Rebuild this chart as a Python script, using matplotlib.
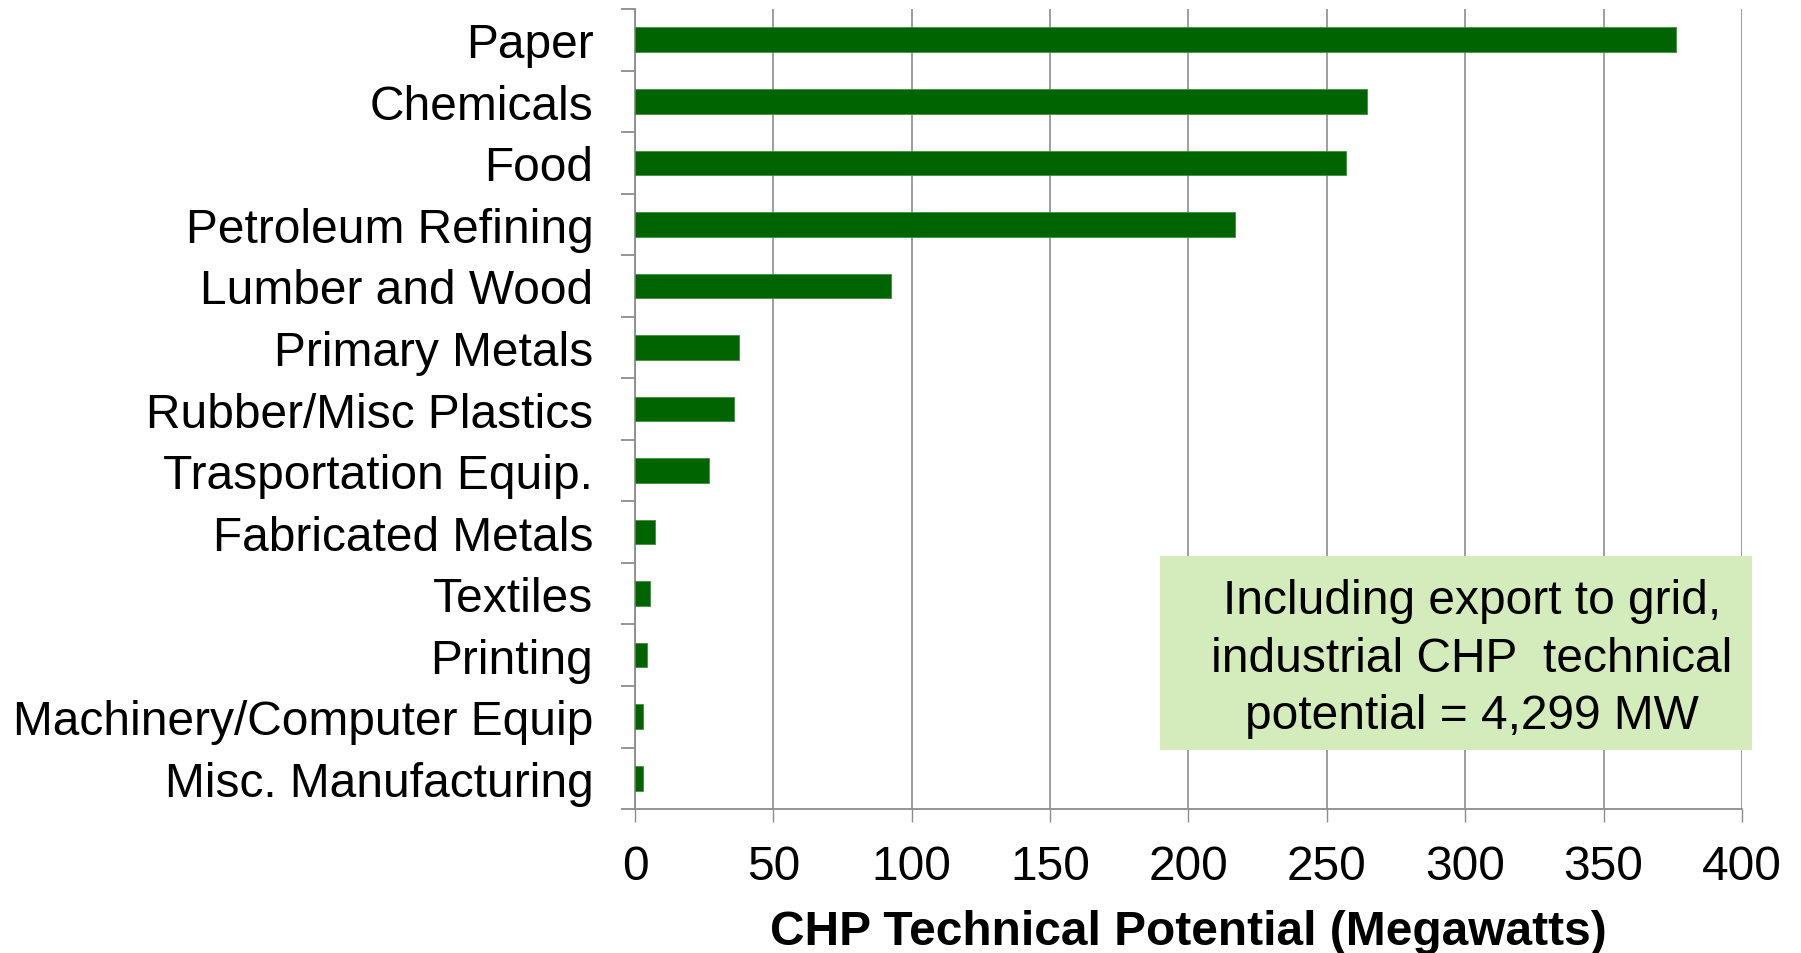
import numpy as np
import matplotlib.pyplot as plt

plt.rcParams['font.family'] = ['Liberation Sans', 'DejaVu Sans']

# Dados do gráfico (de cima para baixo)
setores = ['Paper', 'Chemicals', 'Food', 'Petroleum Refining', 'Lumber and Wood',
           'Primary Metals', 'Rubber/Misc Plastics', 'Trasportation Equip.',
           'Fabricated Metals', 'Textiles', 'Printing', 'Machinery/Computer Equip',
           'Misc. Manufacturing']
potencial_mw = [376.3, 264.4, 257.0, 216.7, 92.4, 37.4, 35.8, 26.9, 7.2, 5.5, 4.2, 3.0, 2.8]
ticks_x = [0, 50, 100, 150, 200, 250, 300, 350, 400]

cinza = '#8c8c8c'
fs = 34.5

fig = plt.figure(figsize=(18.01, 9.54), dpi=100)
ax = fig.add_axes([0.3526, 0.1509, 0.6146, 0.8386])

y = np.arange(len(setores))
ax.barh(y, potencial_mw, height=0.4, color='#006400', edgecolor='#3f8f3f', linewidth=0.6, zorder=3)

ax.set_ylim(len(setores) - 0.5, -0.5)
ax.set_xlim(0, 400)
ax.set_xticks(ticks_x)
ax.set_xticklabels([str(v) for v in ticks_x], fontsize=fs)
ax.set_yticks(y)
ax.set_yticklabels(setores, fontsize=fs)
ax.set_yticks(np.arange(-0.5, len(setores), 1.0), minor=True)

ax.tick_params(axis='y', which='major', length=0, pad=30)
ax.tick_params(axis='y', which='minor', length=10, width=1.3, color=cinza, direction='out')
ax.tick_params(axis='x', which='major', length=9.5, width=1.0, color=cinza, direction='out', pad=16)

ax.grid(axis='x', color=cinza, linewidth=1.2, zorder=0)
ax.set_axisbelow(True)
for s in ['top', 'right']:
    ax.spines[s].set_visible(False)
for s in ['left', 'bottom']:
    ax.spines[s].set_color(cinza)
    ax.spines[s].set_linewidth(1.3)

ax.set_xlabel('CHP Technical Potential (Megawatts)', fontsize=fs, fontweight='bold', labelpad=14)

# Caixa de texto
ax.add_patch(plt.Rectangle((1160 / 1801, 1 - 751 / 954), 592 / 1801, 194 / 954,
                           transform=fig.transFigure, facecolor='#d4ebbc', edgecolor='none',
                           zorder=4, clip_on=False))
ax.text((1472 - 635) / 1107, (810 - 659) / 800,
        'Including export to grid,\nindustrial CHP  technical\npotential = 4,299 MW',
        transform=ax.transAxes, ha='center', va='center', fontsize=fs, linespacing=1.37,
        zorder=5)

fig.savefig('out.png', dpi=100)
